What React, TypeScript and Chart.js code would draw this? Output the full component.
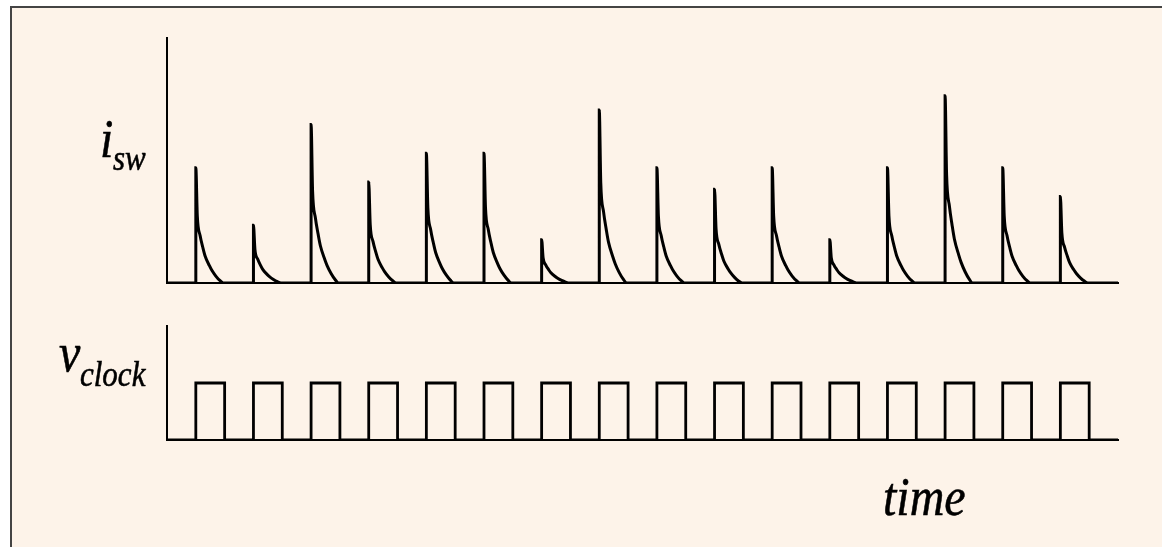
import React, { useEffect, useRef } from "react";
import { Chart, registerables } from "chart.js";

Chart.register(...registerables);

// ---- data ----
const X_MIN = 0;
const X_MAX = 16.5;
const I_MAX = 8.5;
const V_MAX = 2;

// switch turn-on instants (in clock periods)
const SPIKE_TIMES = [0.5, 1.5, 2.5, 3.5, 4.5, 5.5, 6.5, 7.5, 8.5, 9.5, 10.5, 11.5, 12.5, 13.5, 14.5, 15.5];
// peak switch currents
const SPIKE_PEAKS = [4, 2, 5.5, 3.5, 4.5, 4.5, 1.5, 6, 4, 3.25, 4, 1.5, 4, 6.5, 4, 3];
// decay shape of each current pulse (offset in periods, fraction of peak)
const DECAY_OFFSETS = [0, 0.026, 0.075, 0.121, 0.161, 0.236, 0.278, 0.347, 0.416, 0.477];
const DECAY_FRACTIONS = [1, 0.58, 0.41, 0.31, 0.235, 0.15, 0.11, 0.06, 0.022, 0];

// clock edges and levels
const CLOCK_TIMES = [0, 0.5, 1, 1.5, 2, 2.5, 3, 3.5, 4, 4.5, 5, 5.5, 6, 6.5, 7, 7.5, 8, 8.5, 9, 9.5, 10, 10.5, 11, 11.5, 12, 12.5, 13, 13.5, 14, 14.5, 15, 15.5, 16, 16.5];
const CLOCK_LEVELS = [0, 1, 0, 1, 0, 1, 0, 1, 0, 1, 0, 1, 0, 1, 0, 1, 0, 1, 0, 1, 0, 1, 0, 1, 0, 1, 0, 1, 0, 1, 0, 1, 0, 0];

const SERIF = '"Liberation Serif", "Times New Roman", serif';
const STRETCH = 1.15;

function drawText(ctx: CanvasRenderingContext2D, text: string, x: number, y: number, size: number) {
  ctx.save();
  ctx.translate(x, y);
  ctx.scale(1, STRETCH);
  ctx.font = `italic ${size}px ${SERIF}`;
  ctx.fillStyle = "#000";
  ctx.strokeStyle = "#000";
  ctx.lineWidth = 0.5;
  ctx.textBaseline = "alphabetic";
  ctx.textAlign = "left";
  ctx.fillText(text, 0, 0);
  ctx.strokeText(text, 0, 0);
  ctx.restore();
}

function axisOpts(min: number, max: number) {
  return {
    type: "linear" as const,
    min,
    max,
    ticks: { display: false },
    grid: { display: false, drawTicks: false },
    border: { display: true, color: "#000", width: 2 },
  };
}

export default function App() {
  const topRef = useRef<HTMLCanvasElement>(null);
  const botRef = useRef<HTMLCanvasElement>(null);

  useEffect(() => {
    const spikePts: { x: number; y: number }[] = [{ x: X_MIN, y: 0 }];
    SPIKE_TIMES.forEach((t0, i) => {
      spikePts.push({ x: t0, y: 0 });
      DECAY_OFFSETS.forEach((dt, j) => {
        spikePts.push({ x: t0 + dt, y: SPIKE_PEAKS[i] * DECAY_FRACTIONS[j] });
      });
    });
    spikePts.push({ x: X_MAX, y: 0 });

    const clockPts = CLOCK_TIMES.map((t, i) => ({ x: t, y: CLOCK_LEVELS[i] }));

    const topLabel = {
      id: "topLabel",
      afterDraw(chart: Chart) {
        const ctx = chart.ctx;
        drawText(ctx, "i", 100, 157, 48);
        drawText(ctx, "sw", 113, 170, 31);
      },
    };
    const botLabel = {
      id: "botLabel",
      afterDraw(chart: Chart) {
        const ctx = chart.ctx;
        drawText(ctx, "v", 59, 70.5, 48);
        drawText(ctx, "clock", 80, 86, 31);
        drawText(ctx, "time", 883, 215, 48);
      },
    };

    const top = new Chart(topRef.current!, {
      type: "line",
      data: {
        datasets: [
          {
            data: spikePts,
            borderColor: "#000",
            borderWidth: 3,
            pointRadius: 0,
            fill: false,
            cubicInterpolationMode: "monotone",
          },
        ],
      },
      options: {
        responsive: false,
        animation: false,
        layout: { padding: { left: 167, right: 44, top: 38, bottom: 17 } },
        plugins: { legend: { display: false }, tooltip: { enabled: false } },
        scales: { x: axisOpts(X_MIN, X_MAX), y: axisOpts(0, I_MAX) },
      },
      plugins: [topLabel],
    });

    const bot = new Chart(botRef.current!, {
      type: "line",
      data: {
        datasets: [
          {
            data: clockPts,
            borderColor: "#000",
            borderWidth: 2.8,
            pointRadius: 0,
            fill: false,
            stepped: "before",
          },
        ],
      },
      options: {
        responsive: false,
        animation: false,
        layout: { padding: { left: 167, right: 44, top: 26, bottom: 107 } },
        plugins: { legend: { display: false }, tooltip: { enabled: false } },
        scales: { x: axisOpts(X_MIN, X_MAX), y: axisOpts(0, V_MAX) },
      },
      plugins: [botLabel],
    });

    return () => {
      top.destroy();
      bot.destroy();
    };
  }, []);

  return (
    <div style={{ position: "fixed", left: 0, top: 0, width: 1162, height: 547, background: "#fff", overflow: "hidden" }}>
      <div
        style={{
          position: "absolute",
          left: 10,
          top: 6,
          right: 0,
          bottom: 0,
          background: "#FDF3E9",
          borderTop: "2px solid #444",
          borderLeft: "2px solid #444",
        }}
      />
      <canvas ref={topRef} width={1162} height={300} style={{ position: "absolute", left: 0, top: 0, width: 1162, height: 300 }} />
      <canvas ref={botRef} width={1162} height={247} style={{ position: "absolute", left: 0, top: 300, width: 1162, height: 247 }} />
    </div>
  );
}
